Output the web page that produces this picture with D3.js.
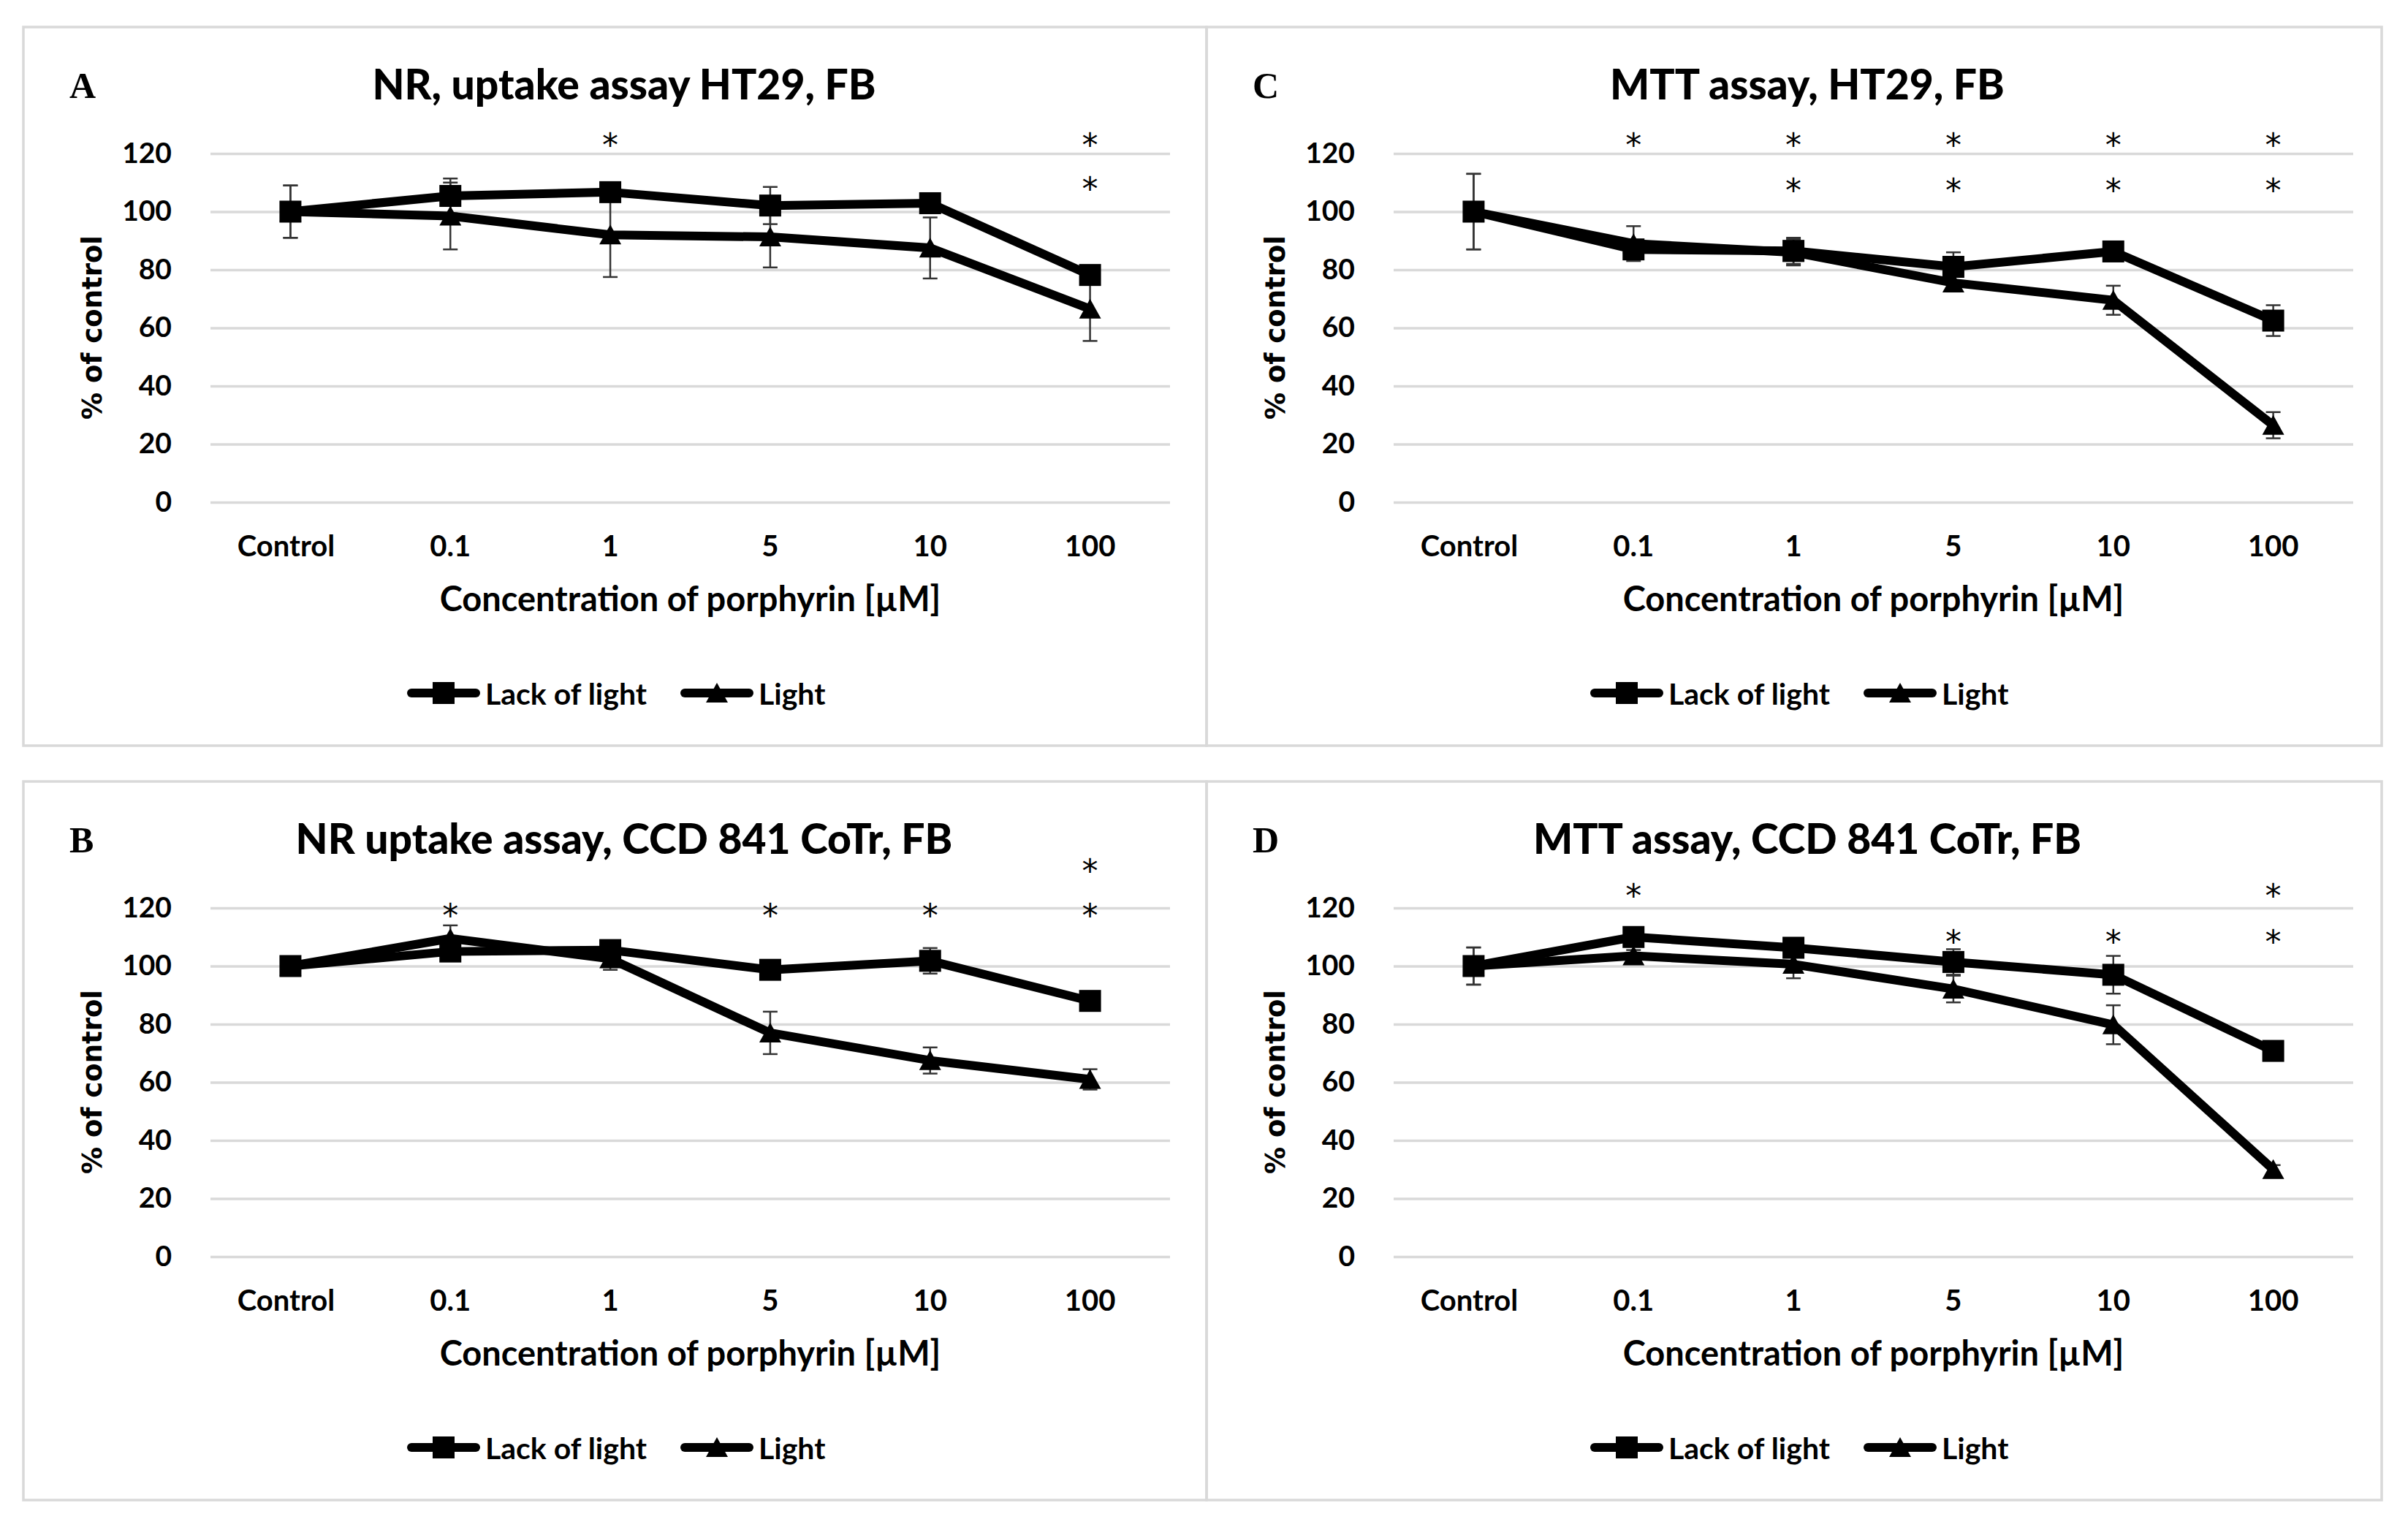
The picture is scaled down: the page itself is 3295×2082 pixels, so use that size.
<!DOCTYPE html>
<html>
<head>
<meta charset="utf-8">
<script src="https://cdn.jsdelivr.net/npm/d3@7"></script>
<style>
  body { margin: 0; background: #fff; }
  svg { display: block; }
</style>
</head>
<body>
<div id="chart"></div>
<script>
// categories and ticks
const categories = ["Control", "0.1", "1", "5", "10", "100"];
const yTicks = [0, 20, 40, 60, 80, 100, 120];
const seriesNames = ["Lack of light", "Light"];

// A: NR uptake, HT29
const lackA = [100, 105.4, 106.7, 102.1, 102.9, 78.2];
const lackAErr = [9, 6, 3, 6.4, 2, 2.5];
const lightA = [100, 98.5, 92, 91.3, 87.5, 66.5];
const lightAErr = [9, 11.5, 14.5, 10.5, 10.5, 11];
const starsA = [["1", 124], ["100", 124], ["100", 109]];

// C: MTT, HT29
const lackC = [100, 87, 86.5, 81, 86.3, 62.5];
const lackCErr = [13, 2, 4.5, 5, 2, 5.3];
const lightC = [100, 89, 86, 75.5, 69.5, 26.5];
const lightCErr = [13, 6, 4.5, 3, 5, 4.5];
const starsC = [["0.1", 124], ["1", 124], ["5", 124], ["10", 124], ["100", 124],
                ["1", 108.5], ["5", 108.5], ["10", 108.5], ["100", 108.5]];

// B: NR uptake, CCD 841 CoTr
const lackB = [100, 105, 105.5, 98.7, 101.8, 88];
const lackBErr = [1.5, 2, 2, 2, 4.4, 2];
const lightB = [100, 109.5, 102.5, 77, 67.5, 61];
const lightBErr = [1.5, 4.5, 3.8, 7.3, 4.5, 3.5];
const starsB = [["0.1", 118.5], ["5", 118.5], ["10", 118.5], ["100", 118.5], ["100", 133.8]];

// D: MTT, CCD 841 CoTr
const lackD = [100, 110, 106.3, 101.4, 97, 70.8];
const lackDErr = [6.4, 1.5, 2, 4.4, 6.5, 1.5];
const lightD = [100, 103.5, 100.6, 92.1, 79.8, 30];
const lightDErr = [6.4, 2, 4.8, 4.6, 6.7, 1.5];
const starsD = [["0.1", 125.3], ["100", 125.3], ["5", 109.4], ["10", 109.4], ["100", 109.4]];

const W = 3295, H = 2082;
const sans = "Lato, 'Open Sans', sans-serif";

const svg = d3.select("#chart").append("svg")
    .attr("width", W)
    .attr("height", H);

svg.append("rect").attr("width", W).attr("height", H).attr("fill", "#fff");

const panels = [
    { letter: "A", title: "NR, uptake assay HT29, FB", lack: lackA, lackErr: lackAErr, light: lightA, lightErr: lightAErr, stars: starsA, x: 32, y: 37, w: 1619 },
    { letter: "C", title: "MTT assay, HT29, FB", lack: lackC, lackErr: lackCErr, light: lightC, lightErr: lightCErr, stars: starsC, x: 1651, y: 37, w: 1608 },
    { letter: "B", title: "NR uptake assay, CCD 841 CoTr, FB", lack: lackB, lackErr: lackBErr, light: lightB, lightErr: lightBErr, stars: starsB, x: 32, y: 1069, w: 1619 },
    { letter: "D", title: "MTT assay, CCD 841 CoTr, FB", lack: lackD, lackErr: lackDErr, light: lightD, lightErr: lightDErr, stars: starsD, x: 1651, y: 1069, w: 1608 }
];

panels.forEach(DrawPanel);

function DrawPanel(p) {
    const g = svg.append("g").attr("transform", `translate(${p.x},${p.y})`);
    const plotL = 256, plotR = 1569, plotB = 650, plotT = 173;

    g.append("rect")
        .attr("width", p.w).attr("height", 983)
        .attr("fill", "none")
        .attr("stroke", "#d9d9d9")
        .attr("stroke-width", 3.5);

    const x = d3.scaleBand().domain(categories).range([plotL, plotR]);
    const y = d3.scaleLinear().domain([0, 120]).range([plotB, plotT]);
    const cx = c => x(c) + x.bandwidth() / 2;

    // gridlines + y tick labels
    const yAxis = g.append("g")
        .attr("transform", `translate(${plotL},0)`)
        .call(d3.axisLeft(y).tickValues(yTicks).tickSize(-(plotR - plotL)).tickPadding(53));
    yAxis.select(".domain").remove();
    yAxis.selectAll(".tick line").attr("stroke", "#d9d9d9").attr("stroke-width", 3.3);
    yAxis.selectAll(".tick text")
        .attr("font-family", sans).attr("font-weight", "bold")
        .attr("font-size", 39).attr("fill", "#000");

    // category labels
    const xAxis = g.append("g")
        .attr("transform", `translate(0,${plotB})`)
        .call(d3.axisBottom(x).tickSize(0).tickPadding(46));
    xAxis.select(".domain").remove();
    xAxis.selectAll(".tick text")
        .attr("font-family", sans).attr("font-weight", "bold")
        .attr("font-size", 40).attr("fill", "#000")
        .attr("dx", (d, i) => i === 0 ? -6 : 0);

    // titles
    g.append("text")
        .attr("x", 822).attr("y", 99)
        .attr("text-anchor", "middle")
        .attr("font-family", sans).attr("font-weight", "900").attr("font-size", 57)
        .text(p.title);

    g.append("text")
        .attr("x", 63).attr("y", 97)
        .attr("font-family", "'Liberation Serif', serif").attr("font-weight", "bold").attr("font-size", 50)
        .text(p.letter);

    g.append("text")
        .attr("x", (plotL + plotR) / 2).attr("y", 799)
        .attr("text-anchor", "middle")
        .attr("font-family", sans).attr("font-weight", "bold").attr("font-size", 47)
        .text("Concentration of porphyrin [µM]");

    g.append("text")
        .attr("transform", "translate(94,411) rotate(-90)")
        .attr("text-anchor", "middle")
        .attr("dominant-baseline", "central")
        .attr("font-family", "'DejaVu Sans', sans-serif").attr("font-weight", "bold").attr("font-size", 37)
        .text("% of control");

    const series = [
        { name: seriesNames[0], values: p.lack, errs: p.lackErr, shape: "square" },
        { name: seriesNames[1], values: p.light, errs: p.lightErr, shape: "triangle" }
    ];

    // error bars
    series.forEach(s => {
        const eb = g.append("g").attr("stroke", "#333").attr("stroke-width", 2.5);
        s.values.forEach((v, i) => {
            const xc = cx(categories[i]);
            const top = y(v + s.errs[i]), bot = y(v - s.errs[i]);
            eb.append("line").attr("x1", xc).attr("x2", xc).attr("y1", top).attr("y2", bot);
            eb.append("line").attr("x1", xc - 10).attr("x2", xc + 10).attr("y1", top).attr("y2", top);
            eb.append("line").attr("x1", xc - 10).attr("x2", xc + 10).attr("y1", bot).attr("y2", bot);
        });
    });

    const line = d3.line()
        .x((d, i) => cx(categories[i]))
        .y(d => y(d));

    series.forEach(s => {
        g.append("path")
            .datum(s.values)
            .attr("d", line)
            .attr("fill", "none")
            .attr("stroke", "#000")
            .attr("stroke-width", 12)
            .attr("stroke-linejoin", "round")
            .attr("stroke-linecap", "round");
    });

    series.forEach(s => {
        s.values.forEach((v, i) => DrawMarker(g, s.shape, cx(categories[i]), y(v)));
    });

    // significance asterisks
    g.append("g").selectAll("text")
        .data(p.stars)
        .join("text")
        .attr("x", d => cx(d[0]))
        .attr("y", d => y(d[1]) + 20)
        .attr("text-anchor", "middle")
        .attr("font-family", "'DejaVu Sans', sans-serif").attr("font-size", 44)
        .text("*");

    // legend
    const leg = g.append("g").attr("transform", "translate(0,911)");
    const legItems = [
        { name: seriesNames[0], shape: "square", x0: 531 },
        { name: seriesNames[1], shape: "triangle", x0: 905 }
    ];
    legItems.forEach(it => {
        leg.append("line")
            .attr("x1", it.x0).attr("x2", it.x0 + 88)
            .attr("stroke", "#000").attr("stroke-width", 12).attr("stroke-linecap", "round");
        DrawMarker(leg, it.shape, it.x0 + 44, 0);
        leg.append("text")
            .attr("x", it.x0 + 101).attr("y", 0)
            .attr("dominant-baseline", "central")
            .attr("font-family", sans).attr("font-weight", "bold").attr("font-size", 41)
            .text(it.name);
    });
}

function DrawMarker(g, shape, xc, yc) {
    if (shape === "square") {
        g.append("rect")
            .attr("x", xc - 15).attr("y", yc - 15)
            .attr("width", 30).attr("height", 30)
            .attr("fill", "#000");
    } else {
        g.append("path")
            .attr("d", `M${xc},${yc - 14}L${xc + 15},${yc + 13}L${xc - 15},${yc + 13}Z`)
            .attr("fill", "#000");
    }
}
</script>
</body>
</html>
